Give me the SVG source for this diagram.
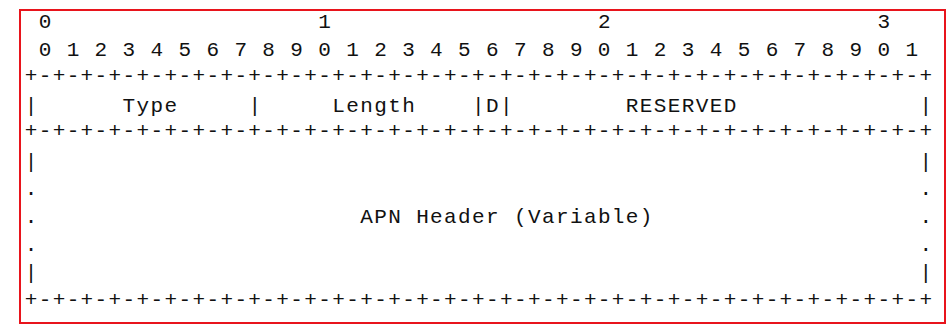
<svg xmlns="http://www.w3.org/2000/svg" width="949" height="325" viewBox="0 0 949 325">
  <style>
    text { font-family: "Liberation Mono", "DejaVu Sans Mono", monospace; font-size: 21px; fill: #111; letter-spacing: 1.378px; }
    .frame { fill: none; stroke: #e8141c; stroke-width: 2; }
  </style>
  <!-- white page with red outline -->
  <rect x="0" y="0" width="949" height="325" fill="#ffffff"/>
  <rect class="frame" x="20" y="10" width="925" height="313"/>

  <!-- bit ruler -->
  <g id="ruler">
    <text x="38.68" y="28">0</text>
    <text x="318.28" y="28">1</text>
    <text x="597.88" y="28">2</text>
    <text x="877.48" y="28">3</text>
    <text x="38.68" y="56">0 1 2 3 4 5 6 7 8 9 0 1 2 3 4 5 6 7 8 9 0 1 2 3 4 5 6 7 8 9 0 1</text>
  </g>

  <!-- row separators and field dividers -->
  <g id="connectors">
    <text x="24.7" y="82">+-+-+-+-+-+-+-+-+-+-+-+-+-+-+-+-+-+-+-+-+-+-+-+-+-+-+-+-+-+-+-+-+</text>
    <text x="24.7" y="137">+-+-+-+-+-+-+-+-+-+-+-+-+-+-+-+-+-+-+-+-+-+-+-+-+-+-+-+-+-+-+-+-+</text>
    <text x="24.7" y="306">+-+-+-+-+-+-+-+-+-+-+-+-+-+-+-+-+-+-+-+-+-+-+-+-+-+-+-+-+-+-+-+-+</text>
    <text x="24.7" y="111.7">|</text>
    <text x="248.38" y="111.7">|</text>
    <text x="472.06" y="111.7">|</text>
    <text x="500.02" y="111.7">|</text>
    <text x="919.42" y="111.7">|</text>
    <text x="24.7" y="167.5">|</text>
    <text x="919.42" y="167.5">|</text>
    <text x="24.7" y="195.4">.</text>
    <text x="919.42" y="195.4">.</text>
    <text x="24.7" y="223.3">.</text>
    <text x="919.42" y="223.3">.</text>
    <text x="24.7" y="251.2">.</text>
    <text x="919.42" y="251.2">.</text>
    <text x="24.7" y="279.1">|</text>
    <text x="919.42" y="279.1">|</text>
  </g>

  <g id="field-type"><text x="122.56" y="111.7">Type</text></g>
  <g id="field-length"><text x="332.26" y="111.7">Length</text></g>
  <g id="field-d"><text x="486.04" y="111.7">D</text></g>
  <g id="field-reserved"><text x="625.84" y="111.7">RESERVED</text></g>
  <g id="field-apn-header"><text x="360.22" y="223.3">APN Header (Variable)</text></g>
</svg>
